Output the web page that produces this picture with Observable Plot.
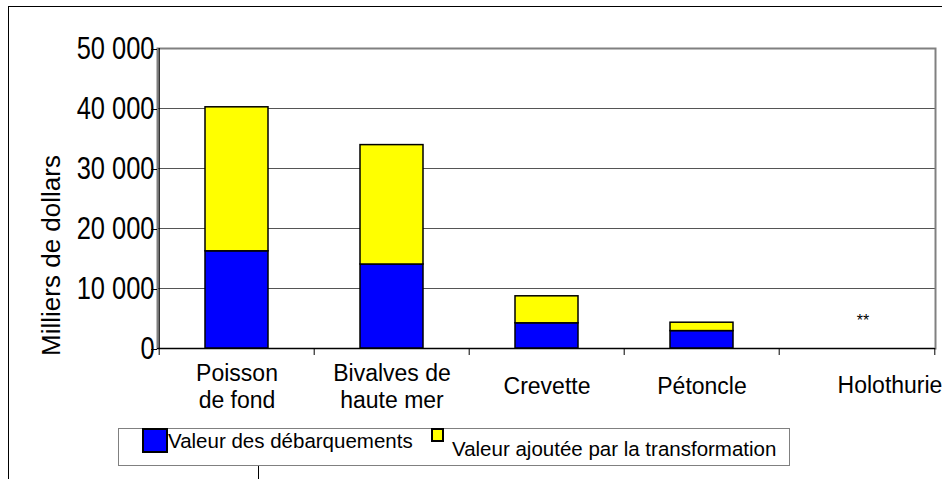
<!DOCTYPE html>
<html>
<head>
<meta charset="utf-8">
<script src="https://cdn.jsdelivr.net/npm/d3@7"></script>
<script src="https://cdn.jsdelivr.net/npm/@observablehq/plot@0.6"></script>
<style>
  html, body { margin: 0; padding: 0; background: #fff; }
  #wrap { position: relative; width: 942px; height: 479px; overflow: hidden; font-family: "Liberation Sans", Arial, sans-serif; }
  #outerTop { position: absolute; left: 8px; top: 6px; width: 934px; height: 0; border-top: 1px solid #000; }
  #outerLeft { position: absolute; left: 8px; top: 6px; width: 0; height: 473px; border-left: 1px solid #000; }
  #outerStub { position: absolute; left: 258px; top: 465px; width: 0; height: 14px; border-left: 1px solid #000; }
  #chart { position: absolute; left: 0; top: 0; }
  #legend { position: absolute; left: 118px; top: 428px; width: 670px; height: 36px; border: 1px solid #808080; background: #fff; }
  .sw { position: absolute; box-sizing: border-box; border: 2px solid #000; }
  .lt { position: absolute; font-size: 20.5px; color: #000; white-space: nowrap; line-height: 1; }
</style>
</head>
<body>
<div id="wrap">
  <div id="outerTop"></div>
  <div id="outerLeft"></div>
  <div id="outerStub"></div>
  <div id="chart"></div>
  <div id="legend"></div>
</div>
<script>
// ---- data ----
const categories = ["Poisson\nde fond", "Bivalves de\nhaute mer", "Crevette", "Pétoncle", "Holothurie"];
const landedValue = [16200, 14000, 4200, 2900, 0];
const addedValue = [24000, 19900, 4500, 1400, 0];
const seriesNames = ["Valeur des débarquements", "Valeur ajoutée par la transformation"];
const seriesColors = ["#0000FF", "#FFFF00"];
const yTicks = [0, 10000, 20000, 30000, 40000, 50000];
const yTitle = "Milliers de dollars";
const noteCategory = "Holothurie";
const noteLabel = "**";
const noteY = 3700;

// ---- build table ----
const rows = [];
categories.forEach((c, i) => {
  rows.push({category: c, series: seriesNames[0], value: landedValue[i]});
  rows.push({category: c, series: seriesNames[1], value: addedValue[i]});
});
const barRows = rows.filter(d => d.value > 0);

const W = 942, H = 420, ML = 157, MR = 7, MT = 48, MB = 72;
const step = (W - ML - MR) / categories.length;
const fmt = d => d3.format(",")(d).replace(/,/g, " ");

const chart = Plot.plot({
  width: W, height: H,
  marginLeft: ML, marginRight: MR, marginTop: MT, marginBottom: MB,
  x: {domain: categories, paddingInner: 0.595, paddingOuter: 0.2975, label: null},
  y: {domain: [0, 50000], label: null},
  color: {domain: seriesNames, range: seriesColors},
  style: {fontFamily: "'Liberation Sans', Arial, sans-serif", background: "transparent", color: "#000", overflow: "visible"},
  marks: [
    Plot.gridY(yTicks.slice(1), {stroke: "#555", strokeOpacity: 1, strokeWidth: 1}),
    Plot.frame({stroke: "#808080", strokeWidth: 2}),
    Plot.barY(barRows, {x: "category", y: "value", fill: "series", stroke: "#000", strokeWidth: 1.5}),
    Plot.ruleY([0], {stroke: "#000", strokeWidth: 1.2}),
    Plot.ruleX([categories[0]], {dx: -step / 2, stroke: "#000", strokeWidth: 1.2}),
    Plot.axisX(categories, {tickSize: 7, dx: -step / 2, tickFormat: () => "", label: null, stroke: "#000"}),
    Plot.axisX([categories[categories.length - 1]], {tickSize: 7, dx: step / 2, tickFormat: () => "", label: null, stroke: "#000"}),
    Plot.axisY(yTicks, {tickSize: 6, tickPadding: -3, tickFormat: fmt, fontSize: 31, fontFamily: "'Liberation Sans', Arial, sans-serif", label: null, stroke: "#000", dy: 1}),
    Plot.text(categories.slice(0, 4), {x: d => d, text: d => d, frameAnchor: "bottom", dy: 37, lineAnchor: "middle", fontSize: 23, lineHeight: 1.17, fill: "#000"}),
    Plot.text(categories.slice(4), {x: d => d, text: d => d, frameAnchor: "bottom", dy: 37, dx: 33, lineAnchor: "middle", fontSize: 23, fill: "#000"}),
    Plot.text([yTitle], {text: d => d, frameAnchor: "left", textAnchor: "middle", rotate: -90, dx: -106, dy: 57, fontSize: 26, fill: "#000"}),
    Plot.text([{category: noteCategory, y: noteY, label: noteLabel}], {x: "category", y: "y", text: "label", dx: 6, lineAnchor: "bottom", fontSize: 16, fill: "#000"})
  ]
});
document.getElementById("chart").appendChild(chart);

// condense the y tick labels (narrow face in the original)
d3.select(chart).selectAll('g[aria-label="y-axis tick label"] text').each(function () {
  const w = this.getComputedTextLength();
  if (w > 0) {
    this.setAttribute("textLength", (w * 0.82).toFixed(1));
    this.setAttribute("lengthAdjust", "spacingAndGlyphs");
  }
});

// ---- legend ----
const legend = document.getElementById("legend");
const items = [
  {sw: {left: 23, top: -1, w: 26, h: 25}, txt: {left: 49, top: 2}},
  {sw: {left: 312, top: -1, w: 13, h: 14}, txt: {left: 333, top: 10}}
];
seriesNames.forEach((name, i) => {
  const s = document.createElement("div");
  s.className = "sw";
  Object.assign(s.style, {left: items[i].sw.left + "px", top: items[i].sw.top + "px", width: items[i].sw.w + "px", height: items[i].sw.h + "px", background: seriesColors[i]});
  legend.appendChild(s);
  const t = document.createElement("div");
  t.className = "lt";
  t.textContent = name;
  Object.assign(t.style, {left: items[i].txt.left + "px", top: items[i].txt.top + "px"});
  legend.appendChild(t);
});
</script>
</body>
</html>
